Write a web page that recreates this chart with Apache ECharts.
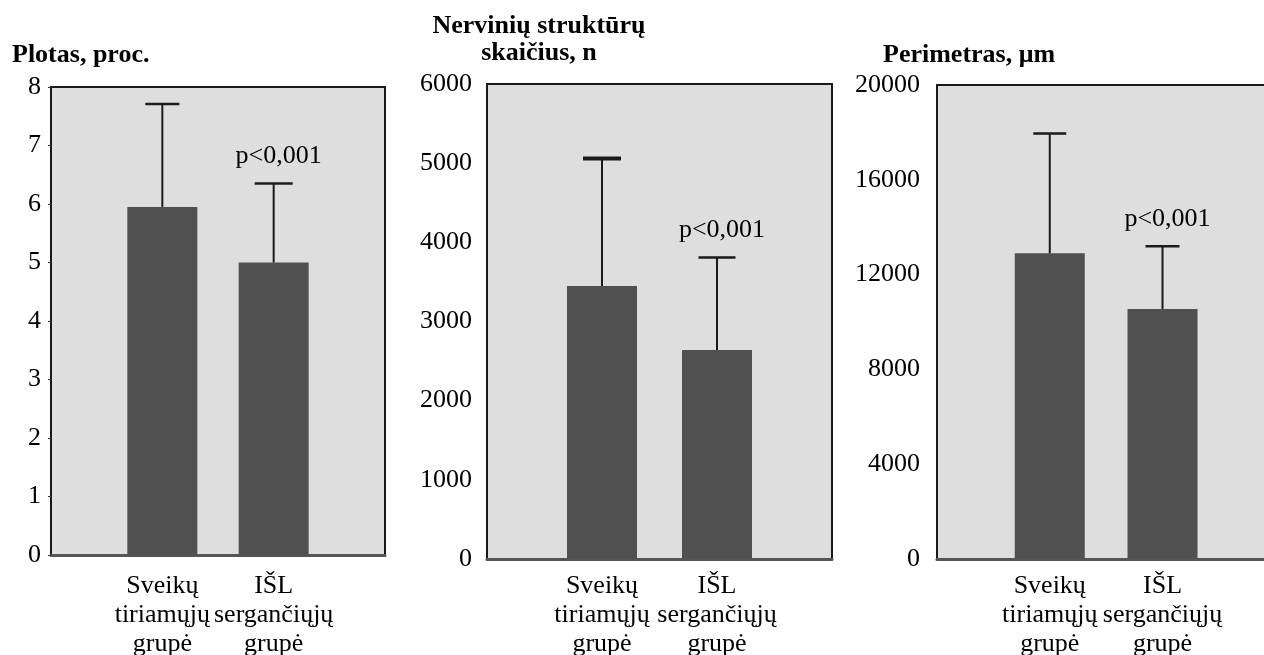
<!DOCTYPE html>
<html>
<head>
<meta charset="utf-8">
<script src="https://cdn.jsdelivr.net/npm/echarts@6/dist/echarts.min.js"></script>
<style>
html,body{margin:0;padding:0;background:#fff;}
#c{width:1264px;height:655px;}
</style>
</head>
<body>
<div id="c"></div>
<script>
// ---- data ----
const categories = ['Sveikų\ntiriamųjų\ngrupė', 'IŠL\nsergančiųjų\ngrupė'];
const panelTitles = ['Plotas, proc.', 'Nervinių struktūrų\nskaičius, n', 'Perimetras, μm'];
const plotasMean = [5.95, 5.0];
const plotasSD = [1.76, 1.35];
const nervMean = [3450, 2640];
const nervSD = [1610, 1170];
const perimMean = [12900, 10550];
const perimSD = [5050, 2650];
const pLabels = ['', 'p<0,001'];
const yMax = [8, 6000, 20000];
const yInterval = [1, 1000, 4000];

// ---- layout ----
const FONT = '"Liberation Serif", "DejaVu Serif", serif';
const grids = [
  {left: 51, top: 87, width: 334, height: 468},
  {left: 487, top: 84, width: 345, height: 475},
  {left: 937, top: 85, right: 0, height: 474}
];
const xMax = [3, 3, 2.9];
const labelMargins = [10, 15, 17];
const catMargins = [17, 13, 13];
const capWidths = [[34, 38], [38, 37], [33, 34]];
const capLW = [[2.5, 2.5], [4, 2.5], [2.5, 2.5]];
const means = [plotasMean, nervMean, perimMean];
const sds = [plotasSD, nervSD, perimSD];

const catFormatter = v => (Number.isInteger(v) && v >= 1 && v <= categories.length) ? categories[v - 1] : '';

const option = {
  animation: false,
  backgroundColor: '#ffffff',
  title: [
    {text: panelTitles[0], left: 7, top: 37, textStyle: {fontFamily: FONT, fontWeight: 'bold', fontSize: 26, color: '#000', lineHeight: 27}},
    {text: panelTitles[1], left: 534, textAlign: 'center', top: 8, textStyle: {fontFamily: FONT, fontWeight: 'bold', fontSize: 26, color: '#000', lineHeight: 27}},
    {text: panelTitles[2], left: 878, top: 37, textStyle: {fontFamily: FONT, fontWeight: 'bold', fontSize: 26, color: '#000', lineHeight: 27}}
  ],
  grid: grids.map((g, i) => Object.assign({}, g, {
    show: true, backgroundColor: '#dedede', borderColor: '#1a1a1a', borderWidth: i === 2 ? 0 : 2,
    containLabel: false, outerBoundsMode: 'none'
  })),
  xAxis: grids.map((g, i) => ({
    type: 'value', gridIndex: i, min: 0, max: xMax[i], interval: 1,
    axisLine: {show: true, onZero: false, lineStyle: {color: '#555', width: 3}},
    axisTick: {show: false},
    splitLine: {show: false},
    axisLabel: {formatter: catFormatter, showMinLabel: true, showMaxLabel: true, fontFamily: FONT, fontSize: 26, lineHeight: 29, color: '#000', margin: catMargins[i]}
  })).concat([{
    type: 'value', gridIndex: 2, position: 'top', min: 0, max: xMax[2], interval: 1,
    axisLine: {show: true, onZero: false, lineStyle: {color: '#1a1a1a', width: 2}},
    axisTick: {show: false}, splitLine: {show: false}, axisLabel: {show: false}
  }]),
  yAxis: grids.map((g, i) => ({
    type: 'value', gridIndex: i, min: 0, max: yMax[i], interval: yInterval[i],
    axisLine: {show: true, lineStyle: {color: '#1a1a1a', width: 2}},
    axisTick: {show: i === 0, length: 3, lineStyle: {color: '#333'}},
    splitLine: {show: false},
    axisLabel: {formatter: v => String(v), fontFamily: FONT, fontSize: 26, color: '#000', margin: labelMargins[i]}
  })),
  series: []
};

means.forEach((m, i) => {
  option.series.push({
    type: 'bar', xAxisIndex: i, yAxisIndex: i, barWidth: 70,
    itemStyle: {color: '#505050'},
    data: m.map((v, k) => [k + 1, v]),
    z: 2
  });
  option.series.push({
    type: 'custom', xAxisIndex: i, yAxisIndex: i, z: 3,
    data: m.map((v, k) => [k + 1, v, sds[i][k], k]),
    encode: {x: 0, y: 1},
    renderItem: function (params, api) {
      const x = api.value(0), mean = api.value(1), sd = api.value(2), k = api.value(3);
      const p0 = api.coord([x, mean]);
      const p1 = api.coord([x, mean + sd]);
      const cw = capWidths[i][k] / 2;
      const children = [
        {type: 'line', shape: {x1: p0[0], y1: p0[1], x2: p1[0], y2: p1[1]}, style: {stroke: '#1a1a1a', lineWidth: 2}},
        {type: 'line', shape: {x1: p1[0] - cw, y1: p1[1], x2: p1[0] + cw, y2: p1[1]}, style: {stroke: '#1a1a1a', lineWidth: capLW[i][k]}}
      ];
      if (pLabels[k]) {
        children.push({type: 'text', x: p1[0] + 5, y: p1[1] - 27,
          style: {text: pLabels[k], fontFamily: FONT, fontSize: 26, fill: '#000', align: 'center', verticalAlign: 'middle'}});
      }
      return {type: 'group', children: children};
    }
  });
});

const chart = echarts.init(document.getElementById('c'), null, {renderer: 'canvas'});
chart.setOption(option);
</script>
</body>
</html>
